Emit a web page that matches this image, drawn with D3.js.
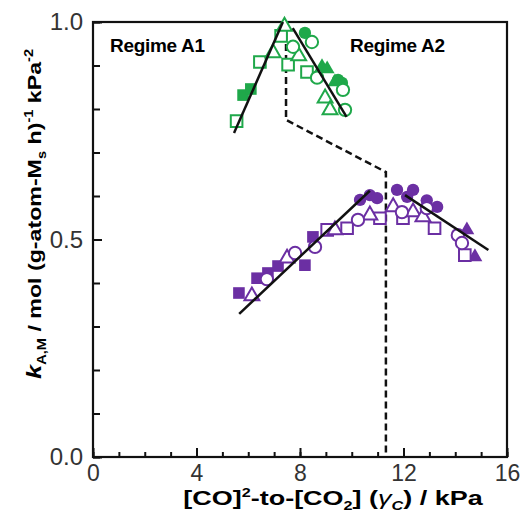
<!DOCTYPE html>
<html>
<head>
<meta charset="utf-8">
<script src="https://cdn.jsdelivr.net/npm/d3@7"></script>
<style>
  body { margin: 0; background: #fff; }
  svg { display: block; font-family: "Liberation Sans", Arial, sans-serif; }
</style>
</head>
<body>
<div id="chart"></div>
<script>
// --- data ---
const green = "#1fa84a";
const purple = "#6b2fa3";

// upper group (green)
const gFilledSquare = [[5.8, 0.832], [6.1, 0.846]];
const gOpenSquare = [[5.55, 0.772], [6.45, 0.908], [7.27, 0.968], [7.54, 0.902], [8.27, 0.885]];
const gOpenTriangle = [[6.96, 0.929], [7.4, 0.99], [7.95, 0.922], [8.97, 0.825], [9.16, 0.798]];
const gOpenCircle = [[7.73, 0.943], [8.46, 0.954], [8.66, 0.872], [9.66, 0.844], [9.74, 0.798]];
const gFilledCircle = [[8.19, 0.975], [9.47, 0.867], [9.62, 0.86]];
const gFilledTriangle = [[8.85, 0.897], [9.05, 0.892], [9.35, 0.862]];

// lower group (purple)
const pFilledSquare = [[5.64, 0.377], [6.34, 0.411], [6.76, 0.423], [7.15, 0.439], [8.19, 0.441], [8.5, 0.506]];
const pOpenTriangle = [[6.14, 0.37], [7.5, 0.457], [9.35, 0.522], [10.7, 0.556], [11.6, 0.575], [12.37, 0.563], [12.75, 0.552]];
const pOpenCircle = [[6.72, 0.409], [7.81, 0.469], [8.58, 0.483], [10.24, 0.545], [11.94, 0.563], [12.9, 0.572], [14.1, 0.51], [14.26, 0.492]];
const pOpenSquare = [[9.05, 0.522], [9.82, 0.526], [11.09, 0.549], [11.98, 0.549], [13.2, 0.526], [14.37, 0.464]];
const pFilledCircle = [[10.32, 0.591], [10.7, 0.602], [10.98, 0.595], [11.75, 0.614], [12.37, 0.614], [12.14, 0.598], [12.9, 0.59], [13.3, 0.575]];
const pFilledTriangle = [[14.45, 0.522], [14.76, 0.46]];

// fitted lines
const fitGreenA1 = [[5.45, 0.745], [7.34, 1.0]];
const fitGreenA2 = [[7.72, 0.986], [9.8, 0.782]];
const fitPurpleA1 = [[5.65, 0.329], [10.7, 0.612]];
const fitPurpleA2 = [[12.06, 0.602], [15.28, 0.476]];

// regime boundary (dashed)
const boundary = [[7.46, 1.0], [7.46, 0.775], [11.32, 0.655], [11.32, 0.0]];

const xTickLabels = [0, 4, 8, 12, 16];
const yTickLabels = [0, 0.5, 1.0];

// --- layout ---
const W = 520, H = 520;
const margin = { top: 22, right: 13, bottom: 63, left: 93 };
const width = W - margin.left - margin.right;
const height = H - margin.top - margin.bottom;

const svg = d3.select("#chart").append("svg")
  .attr("width", W)
  .attr("height", H);

const g = svg.append("g")
  .attr("transform", `translate(${margin.left},${margin.top})`);

const x = d3.scaleLinear().domain([0, 16]).range([0, width]);
const y = d3.scaleLinear().domain([0, 1]).range([height, 0]);

const tickFont = "'Liberation Sans', Arial, sans-serif";

// ticks (inward)
g.append("g")
  .attr("transform", `translate(0,${height})`)
  .call(d3.axisBottom(x).tickValues(d3.range(0, 17, 1)).tickSize(-5).tickFormat(""))
  .call(a => a.select(".domain").remove())
  .call(a => a.selectAll("line").attr("stroke-width", 2).attr("stroke", "#111"));
g.append("g")
  .attr("transform", `translate(0,${height})`)
  .call(d3.axisBottom(x).tickValues(xTickLabels).tickSize(-9).tickPadding(8).tickFormat(d3.format("d")))
  .call(a => a.select(".domain").remove())
  .call(a => a.selectAll("line").attr("stroke-width", 2).attr("stroke", "#111"))
  .call(a => a.selectAll("text").attr("font-size", 23).attr("fill", "#333").attr("font-family", tickFont));

g.append("g")
  .call(d3.axisLeft(y).tickValues(d3.range(0, 1.01, 0.1)).tickSize(-7).tickFormat(""))
  .call(a => a.select(".domain").remove())
  .call(a => a.selectAll("line").attr("stroke-width", 2).attr("stroke", "#111"));
g.append("g")
  .call(d3.axisLeft(y).tickValues(yTickLabels).tickSize(-9).tickPadding(10).tickFormat(d3.format(".1f")))
  .call(a => a.select(".domain").remove())
  .call(a => a.selectAll("line").attr("stroke-width", 2).attr("stroke", "#111"))
  .call(a => a.selectAll("text").attr("font-size", 24).attr("fill", "#333").attr("font-family", tickFont));

// frame
g.append("rect")
  .attr("width", width)
  .attr("height", height)
  .attr("fill", "none")
  .attr("stroke", "#111")
  .attr("stroke-width", 2.2);

const line = d3.line().x(d => x(d[0])).y(d => y(d[1]));

// dashed boundary
g.append("path")
  .datum(boundary)
  .attr("d", line)
  .attr("fill", "none")
  .attr("stroke", "#111")
  .attr("stroke-width", 2.5)
  .attr("stroke-dasharray", "7,4");

// markers
const sym = {
  square: d3.symbol().type(d3.symbolSquare).size(135),
  circle: d3.symbol().type(d3.symbolCircle).size(120),
  triangle: d3.symbol().type(d3.symbolTriangle).size(95)
};

const series = [
  { pts: gFilledSquare, shape: "square", color: green, filled: true },
  { pts: gFilledCircle, shape: "circle", color: green, filled: true },
  { pts: gFilledTriangle, shape: "triangle", color: green, filled: true },
  { pts: gOpenSquare, shape: "square", color: green, filled: false },
  { pts: gOpenTriangle, shape: "triangle", color: green, filled: false },
  { pts: gOpenCircle, shape: "circle", color: green, filled: false },
  { pts: pFilledSquare, shape: "square", color: purple, filled: true },
  { pts: pFilledCircle, shape: "circle", color: purple, filled: true },
  { pts: pFilledTriangle, shape: "triangle", color: purple, filled: true },
  { pts: pOpenSquare, shape: "square", color: purple, filled: false },
  { pts: pOpenTriangle, shape: "triangle", color: purple, filled: false },
  { pts: pOpenCircle, shape: "circle", color: purple, filled: false }
];

series.forEach(s => {
  g.append("g").selectAll("path")
    .data(s.pts)
    .enter().append("path")
      .attr("d", sym[s.shape])
      .attr("transform", d => `translate(${x(d[0])},${y(d[1])})`)
      .attr("fill", s.filled ? s.color : "#fff")
      .attr("stroke", s.color)
      .attr("stroke-width", s.filled ? 0 : 2);
});

// fit lines
[fitGreenA1, fitGreenA2, fitPurpleA1, fitPurpleA2].forEach(f => {
  g.append("path")
    .datum(f)
    .attr("d", line)
    .attr("fill", "none")
    .attr("stroke", "#111")
    .attr("stroke-width", 2.5);
});

// regime labels
g.append("text")
  .attr("x", 17).attr("y", 30)
  .attr("font-size", 19).attr("font-weight", "bold")
  .attr("letter-spacing", -0.3)
  .text("Regime A1");
g.append("text")
  .attr("x", 257).attr("y", 30)
  .attr("font-size", 19).attr("font-weight", "bold")
  .attr("letter-spacing", -0.3)
  .text("Regime A2");

// x-axis label (the original lettering is wide, so stretch it horizontally)
const xl = svg.append("g")
  .attr("transform", `translate(333,505) scale(1.35,1)`)
  .append("text")
  .attr("text-anchor", "middle")
  .attr("font-size", 20)
  .attr("font-weight", "bold");
xl.append("tspan").text("[CO]");
xl.append("tspan").attr("font-size", 12).attr("dy", -8).text("2");
xl.append("tspan").attr("dy", 8).text("-to-[CO");
xl.append("tspan").attr("font-size", 12).attr("dy", 5).text("2");
xl.append("tspan").attr("dy", -5).text("] (");
xl.append("tspan").attr("font-style", "italic").attr("font-weight", "normal").text("γ");
xl.append("tspan").attr("font-size", 12).attr("font-style", "italic").attr("dy", 5).text("C");
xl.append("tspan").attr("dy", -5).text(") / kPa");

// y-axis label
const yl = svg.append("g")
  .attr("transform", `translate(41,214) rotate(-90) scale(1.22,1)`)
  .append("text")
  .attr("text-anchor", "middle")
  .attr("font-size", 19)
  .attr("font-weight", "bold");
yl.append("tspan").attr("font-style", "italic").attr("font-size", 21).text("k");
yl.append("tspan").attr("font-size", 12).attr("dy", 5).text("A,M");
yl.append("tspan").attr("dy", -5).text(" / mol (g-atom-M");
yl.append("tspan").attr("font-size", 12).attr("dy", 5).text("s");
yl.append("tspan").attr("dy", -5).text(" h)");
yl.append("tspan").attr("font-size", 12).attr("dy", -8).text("-1");
yl.append("tspan").attr("dy", 8).text(" kPa");
yl.append("tspan").attr("font-size", 12).attr("dy", -8).text("-2");
</script>
</body>
</html>
